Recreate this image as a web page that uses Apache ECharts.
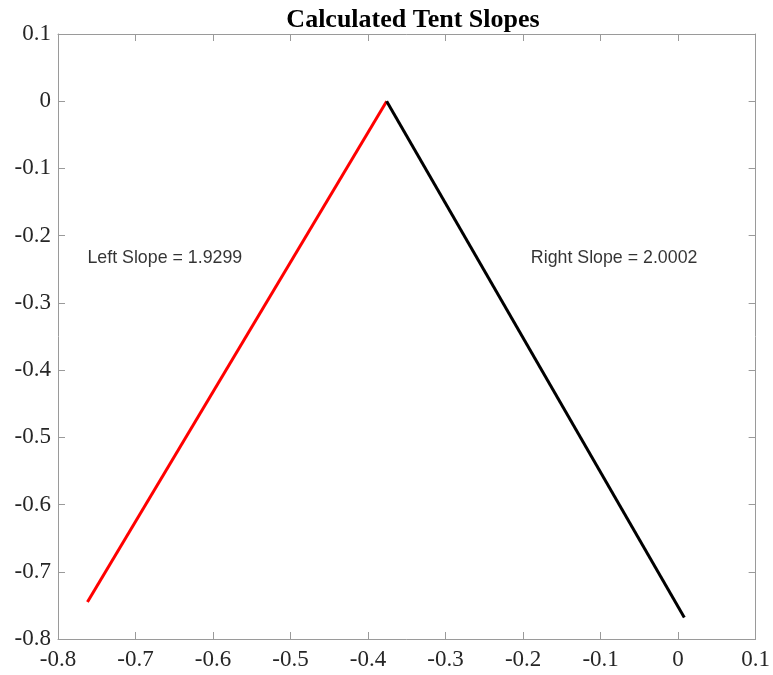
<!DOCTYPE html>
<html>
<head>
<meta charset="utf-8">
<script src="https://cdn.jsdelivr.net/npm/echarts@6/dist/echarts.min.js"></script>
<style>
  html, body { margin: 0; padding: 0; background: #fff; }
  #chart { width: 773px; height: 675px; }
</style>
</head>
<body>
<div id="chart"></div>
<script>
// Tent fit: two straight segments meeting at the peak
const leftSegment = [[-0.762, -0.745], [-0.376, 0.0]];
const rightSegment = [[-0.376, 0.0], [0.008, -0.768]];

// Slope annotations and where they sit (data coordinates)
const leftSlope = 1.9299;
const rightSlope = 2.0002;
const leftLabelAt = [-0.762, -0.233];
const rightLabelAt = [-0.19, -0.233];

// Axis ranges
const xRange = [-0.8, 0.1];
const yRange = [-0.8, 0.1];
const tickStep = 0.1;

const axisGray = '#9a9a9a';
const textDark = '#262626';
const serif = '"Liberation Serif", "Times New Roman", serif';

const fmt = v => {
  const r = Math.round(v * 10) / 10;
  return r === 0 ? '0' : String(r);
};

function valueAxis(range, pos, showLabels) {
  return {
    type: 'value',
    position: pos,
    min: range[0],
    max: range[1],
    interval: tickStep,
    axisLine: { show: true, onZero: false, lineStyle: { color: axisGray, width: 1 } },
    axisTick: { show: true, inside: true, length: 7, lineStyle: { color: axisGray } },
    splitLine: { show: false },
    axisLabel: {
      show: showLabels,
      formatter: fmt,
      color: textDark,
      fontFamily: serif,
      fontSize: 23,
      margin: (pos === 'bottom') ? 9 : 7
    }
  };
}

function labelSeries(at, text) {
  return {
    type: 'scatter',
    data: [at],
    symbolSize: 0,
    silent: true,
    label: {
      show: true,
      position: 'right',
      distance: 0,
      formatter: text,
      color: '#000',
      fontFamily: '"Liberation Sans", Arial, sans-serif',
      fontSize: 17.8
    }
  };
}

const chart = echarts.init(document.getElementById('chart'), null, { renderer: 'canvas' });
chart.setOption({
  animation: false,
  backgroundColor: '#fff',
  title: {
    text: 'Calculated Tent Slopes',
    left: 408,
    textAlign: 'center',
    top: 2,
    textStyle: { fontFamily: serif, fontWeight: 'bold', fontSize: 26, color: '#000' }
  },
  grid: { left: 58, right: 17, top: 34, bottom: 36, containLabel: false },
  xAxis: [valueAxis(xRange, 'bottom', true), valueAxis(xRange, 'top', false)],
  yAxis: [valueAxis(yRange, 'left', true), valueAxis(yRange, 'right', false)],
  series: [
    {
      type: 'line',
      data: leftSegment,
      symbol: 'none',
      lineStyle: { color: '#ff0000', width: 3 }
    },
    {
      type: 'line',
      data: rightSegment,
      symbol: 'none',
      lineStyle: { color: '#000000', width: 3 }
    },
    labelSeries(leftLabelAt, 'Left Slope = ' + leftSlope.toFixed(4)),
    labelSeries(rightLabelAt, 'Right Slope = ' + rightSlope.toFixed(4))
  ]
});
</script>
</body>
</html>
